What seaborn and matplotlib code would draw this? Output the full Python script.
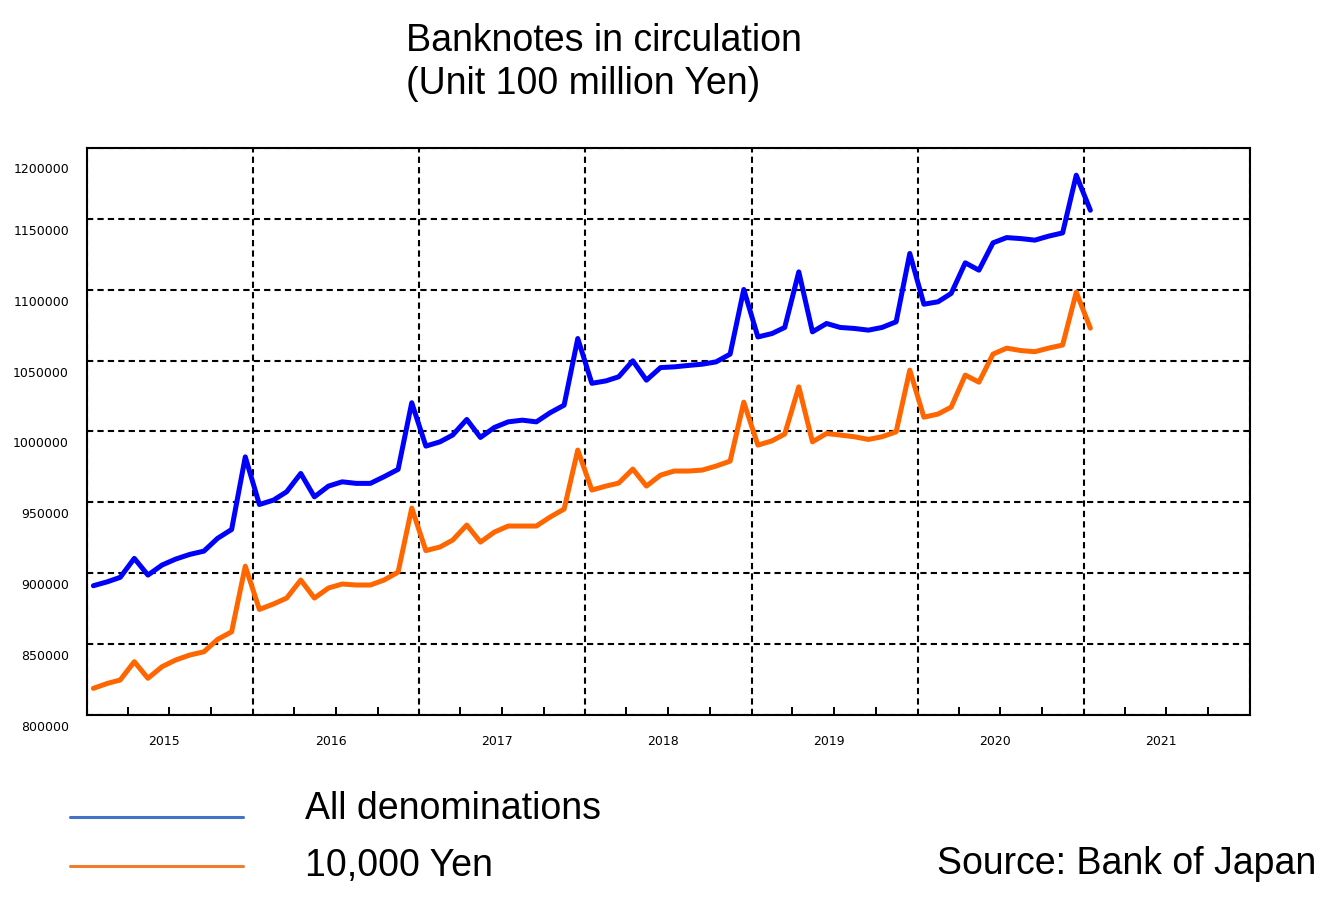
import pandas as pd
import matplotlib
matplotlib.use("Agg")
import matplotlib.pyplot as plt
import matplotlib.dates as mdates
from matplotlib.lines import Line2D
from matplotlib.transforms import ScaledTranslation
import seaborn as sns

# monthly data, Jan 2015 .. Jan 2021 (unit: 100 million yen)
months = pd.date_range("2015-01-01", "2021-01-01", freq="MS") + pd.Timedelta(days=14)

all_denoms = [
    891200, 894000, 897100, 910500, 898700, 905800, 910000, 913300, 915600, 924600, 930900, 982100,
    948500, 951600, 957500, 970400, 953900, 961500, 964500, 963400, 963400, 968100, 973300, 1020300,
    989700, 992700, 997500, 1008500, 995800, 1002900, 1006800, 1008000, 1006800, 1013200, 1018600, 1065600,
    1034000, 1035700, 1038600, 1049900, 1036200, 1045100, 1045600, 1046600, 1047500, 1049100, 1054600, 1100200,
    1066700, 1069100, 1073400, 1112600, 1070300, 1076200, 1073400, 1072700, 1071500, 1073400, 1077400, 1125600,
    1089800, 1091500, 1097400, 1119000, 1113800, 1133100, 1136800, 1136100, 1135000, 1137800, 1140100, 1180800,
    1156100,
]
yen_10000 = [
    818800, 822300, 824700, 837600, 825900, 834100, 838800, 842300, 844600, 853300, 858700, 905000,
    874500, 878300, 882500, 895200, 882500, 889600, 892400, 891700, 891700, 895200, 900800, 946000,
    916000, 918500, 923400, 934000, 922000, 929100, 933300, 933300, 933300, 939600, 945300, 986900,
    958700, 961500, 963600, 973500, 961500, 969200, 972100, 972100, 972800, 975600, 979100, 1020700,
    990400, 993400, 998200, 1031500, 992700, 998600, 997500, 996300, 994400, 996300, 999800, 1043300,
    1010100, 1012300, 1017200, 1039800, 1034800, 1054600, 1058800, 1057100, 1056300, 1058800, 1061000, 1098300,
    1072900,
]

series_names = ["All denominations", "10,000 Yen"]
line_colors = ["#0000FF", "#FF6600"]
legend_colors = ["#4472C4", "#ED7D31"]
year_labels = ["2015", "2016", "2017", "2018", "2019", "2020", "2021"]
y_ticks = list(range(800000, 1200001, 50000))

df = pd.DataFrame({
    "Month": list(months) * 2,
    "Value": all_denoms + yen_10000,
    "Series": [series_names[0]] * len(months) + [series_names[1]] * len(months),
})

sns.set_style("white")
plt.rcParams["font.family"] = ["Liberation Sans", "DejaVu Sans"]
plt.rcParams["text.color"] = "black"
plt.rcParams["xtick.color"] = "black"
plt.rcParams["ytick.color"] = "black"

W, H = 1341, 908
fig = plt.figure(figsize=(W / 100, H / 100), dpi=100)
ax = fig.add_axes([87 / W, 1 - 715 / H, (1250 - 87) / W, (715 - 148) / H])

sns.lineplot(data=df, x="Month", y="Value", hue="Series", hue_order=series_names,
             palette=line_colors, linewidth=3.6, legend=False, ax=ax)

ax.set_xlim(pd.Timestamp("2015-01-01"), pd.Timestamp("2022-01-01"))
ax.set_ylim(800000, 1200000)
ax.set_xlabel("")
ax.set_ylabel("")

# x axis: year gridlines, quarter ticks, year labels in the middle of each year
ax.xaxis.set_major_locator(mdates.YearLocator())
ax.xaxis.set_minor_locator(mdates.MonthLocator(bymonth=[4, 7, 10]))
ax.xaxis.set_major_formatter(plt.NullFormatter())
ax.tick_params(axis="x", which="major", direction="in", length=0)
ax.tick_params(axis="x", which="minor", direction="in", length=6, width=1.4, color="black", bottom=True)
for yr in year_labels:
    ax.text(pd.Timestamp(yr + "-06-20"), -0.047, yr, transform=ax.get_xaxis_transform(),
            ha="center", va="center", fontsize=9, family="DejaVu Sans", color="black")

# y axis
ax.set_yticks(y_ticks)
ax.set_yticklabels([str(v) for v in y_ticks])
ax.tick_params(axis="y", direction="in", length=0, pad=13, labelsize=9, labelcolor="black")
for lab in ax.get_yticklabels():
    lab.set_family("DejaVu Sans")
    lab.set_transform(lab.get_transform() + ScaledTranslation(0, -0.11, fig.dpi_scale_trans))
ax.get_yticklabels()[-1].set_transform(
    ax.get_yticklabels()[-1].get_transform() + ScaledTranslation(0, -0.09, fig.dpi_scale_trans))

ax.grid(True, which="major", color="black", linestyle=(0, (3, 2)), linewidth=1.5)
for s in ax.spines.values():
    s.set_color("black")
    s.set_linewidth(1.5)
    s.set_visible(True)

# title
fig.text(406 / W, 1 - 51 / H, "Banknotes in circulation", fontsize=27, ha="left", va="baseline")
fig.text(406 / W, 1 - 94 / H, "(Unit 100 million Yen)", fontsize=27, ha="left", va="baseline")

# manual legend
leg_y = [817, 866]
text_base = [819, 876]
for name, col, ly, ty in zip(series_names, legend_colors, leg_y, text_base):
    fig.add_artist(Line2D([70 / W, 243 / W], [1 - ly / H, 1 - ly / H], color=col, linewidth=2.2))
    fig.text(305 / W, 1 - ty / H, name, fontsize=27, ha="left", va="baseline")

fig.text(1316 / W, 1 - 874 / H, "Source: Bank of Japan", fontsize=27, ha="right", va="baseline")

fig.savefig("out.png", dpi=100)
